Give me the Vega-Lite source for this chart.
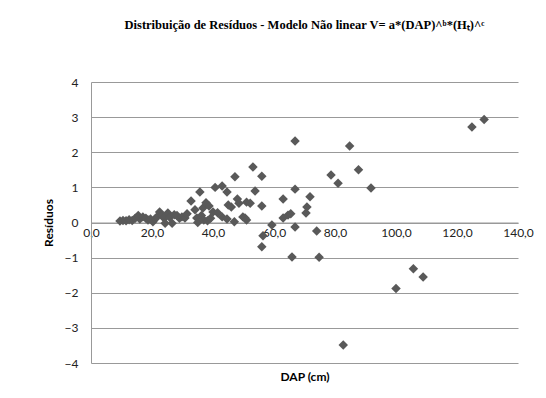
{
  "$schema": "https://vega.github.io/schema/vega-lite/v6.json",
  "autosize": {"type": "none"},
  "padding": {"left": 91, "top": 82, "right": 28, "bottom": 35},
  "width": 427,
  "height": 281,
  "background": "white",
  "title": {
    "text": "Distribuição de Resíduos - Modelo Não linear V= a*(DAP)^ᵇ*(Hₜ)^ᶜ",
    "font": "Liberation Serif",
    "fontSize": 12.5,
    "fontWeight": "bold",
    "color": "black",
    "anchor": "middle",
    "frame": "group",
    "offset": 45
  },
  "config": {"view": {"stroke": null}},
  "data": {
    "values": [
      {"DAP": 9.5, "Res": 0.04}, {"DAP": 10.5, "Res": 0.06}, {"DAP": 11.5, "Res": 0.05}, {"DAP": 12.5, "Res": 0.08},
      {"DAP": 13.5, "Res": 0.06}, {"DAP": 14.5, "Res": 0.12}, {"DAP": 15.5, "Res": 0.2}, {"DAP": 16, "Res": 0.1},
      {"DAP": 17, "Res": 0.16}, {"DAP": 18, "Res": 0.12}, {"DAP": 18.7, "Res": 0.07}, {"DAP": 19.5, "Res": 0.1},
      {"DAP": 20.3, "Res": 0.02}, {"DAP": 21, "Res": 0.1}, {"DAP": 21.6, "Res": 0.16}, {"DAP": 22.5, "Res": 0.3},
      {"DAP": 23.3, "Res": 0.2}, {"DAP": 24, "Res": 0.12}, {"DAP": 24.3, "Res": -0.02}, {"DAP": 25.2, "Res": 0.27},
      {"DAP": 25.8, "Res": 0.15}, {"DAP": 26.6, "Res": -0.02}, {"DAP": 27.3, "Res": 0.22}, {"DAP": 28.2, "Res": 0.2},
      {"DAP": 29, "Res": 0.12}, {"DAP": 29.8, "Res": 0.16}, {"DAP": 30.8, "Res": 0.13}, {"DAP": 31.5, "Res": 0.25},
      {"DAP": 32.8, "Res": 0.61}, {"DAP": 34.1, "Res": 0.36}, {"DAP": 34.7, "Res": 0.13}, {"DAP": 35, "Res": 0.0},
      {"DAP": 35.7, "Res": 0.87}, {"DAP": 36.2, "Res": 0.2}, {"DAP": 36.7, "Res": 0.41}, {"DAP": 37, "Res": 0.07},
      {"DAP": 37.7, "Res": 0.56}, {"DAP": 38.2, "Res": 0.05}, {"DAP": 38.7, "Res": 0.47}, {"DAP": 39.2, "Res": 0.12},
      {"DAP": 40, "Res": 0.3}, {"DAP": 40.7, "Res": 1.0}, {"DAP": 41.5, "Res": 0.28}, {"DAP": 43, "Res": 1.04},
      {"DAP": 43, "Res": 0.16}, {"DAP": 44.6, "Res": 0.87}, {"DAP": 44.6, "Res": 0.1}, {"DAP": 45, "Res": 0.5},
      {"DAP": 46, "Res": 0.44}, {"DAP": 47, "Res": 0.02}, {"DAP": 47.2, "Res": 1.3}, {"DAP": 48, "Res": 0.67},
      {"DAP": 48.5, "Res": 0.55}, {"DAP": 49.8, "Res": 0.16}, {"DAP": 50.5, "Res": 0.13}, {"DAP": 51, "Res": 0.58},
      {"DAP": 51, "Res": 0.07}, {"DAP": 52.2, "Res": 0.55}, {"DAP": 53.1, "Res": 1.58}, {"DAP": 53.8, "Res": 0.9},
      {"DAP": 56, "Res": 1.32}, {"DAP": 56, "Res": 0.47}, {"DAP": 56.4, "Res": -0.38}, {"DAP": 56, "Res": -0.69},
      {"DAP": 59.3, "Res": -0.07}, {"DAP": 63, "Res": 0.67}, {"DAP": 63, "Res": 0.13}, {"DAP": 64.6, "Res": 0.21},
      {"DAP": 65.5, "Res": 0.25}, {"DAP": 65.9, "Res": -0.98}, {"DAP": 66.9, "Res": 2.32}, {"DAP": 66.9, "Res": 0.95},
      {"DAP": 66.9, "Res": -0.13}, {"DAP": 70.5, "Res": 0.27}, {"DAP": 70.8, "Res": 0.44}, {"DAP": 71.8, "Res": 0.73},
      {"DAP": 74, "Res": -0.24}, {"DAP": 74.8, "Res": -0.99}, {"DAP": 78.7, "Res": 1.35}, {"DAP": 81, "Res": 1.12},
      {"DAP": 82.7, "Res": -3.49}, {"DAP": 84.8, "Res": 2.18}, {"DAP": 87.7, "Res": 1.5}, {"DAP": 91.8, "Res": 0.98},
      {"DAP": 100, "Res": -1.88}, {"DAP": 105.7, "Res": -1.32}, {"DAP": 108.9, "Res": -1.55}, {"DAP": 124.9, "Res": 2.72},
      {"DAP": 128.9, "Res": 2.93}
    ]
  },
  "mark": {"type": "point", "shape": "diamond", "filled": true, "size": 90, "color": "#595959", "opacity": 1},
  "encoding": {
    "x": {
      "field": "DAP",
      "type": "quantitative",
      "scale": {"domain": [0, 140], "nice": false, "zero": false},
      "axis": {
        "values": [0, 20, 40, 60, 80, 100, 120, 140],
        "labelExpr": "replace(format(datum.value, '.1f'), '.', ',')",
        "offset": -140.5,
        "grid": false,
        "ticks": false,
        "domainColor": "#999999",
        "labelFlush": false,
        "labelFont": "Lato",
        "labelFontSize": 12,
        "labelColor": "#222222",
        "labelPadding": 5,
        "title": "DAP (cm)",
        "titleFont": "Lato",
        "titleFontSize": 12,
        "titleFontWeight": "bold",
        "titleColor": "black",
        "titleY": 149,
        "titleBaseline": "top"
      }
    },
    "y": {
      "field": "Res",
      "type": "quantitative",
      "scale": {"domain": [-4, 4], "nice": false},
      "axis": {
        "values": [-4, -3, -2, -1, 0, 1, 2, 3, 4],
        "grid": true,
        "gridColor": "#999999",
        "ticks": false,
        "domainColor": "#999999",
        "labelFont": "Lato",
        "labelFontSize": 12,
        "labelColor": "#222222",
        "labelPadding": 13,
        "title": "Resíduos",
        "titleFont": "Lato",
        "titleFontSize": 12,
        "titleFontWeight": "bold",
        "titleColor": "black",
        "titleX": -43,
        "titleBaseline": "middle"
      }
    }
  }
}
